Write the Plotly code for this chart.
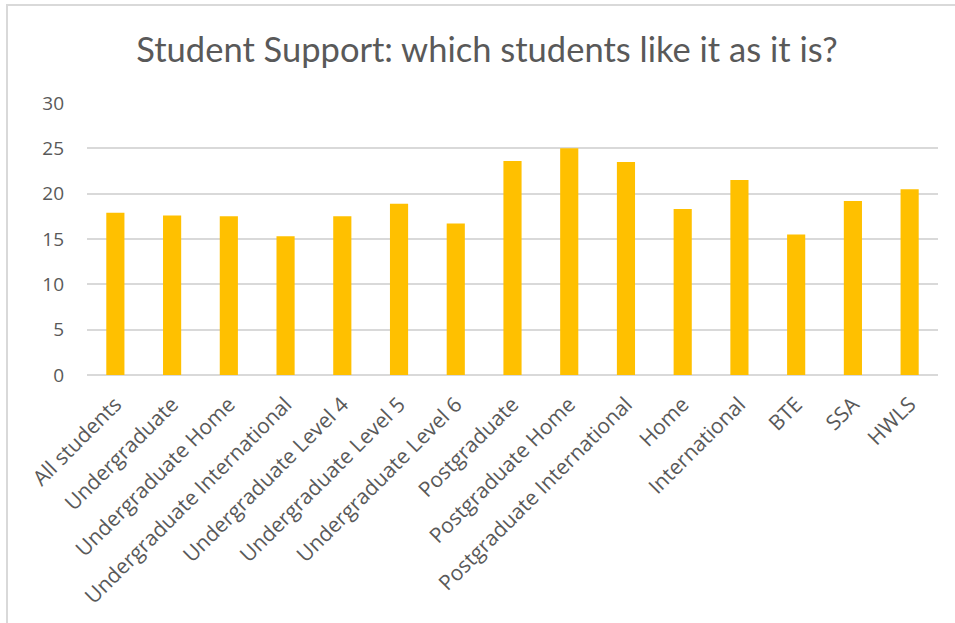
import plotly.graph_objects as go

categories = [
    "All students", "Undergraduate", "Undergraduate Home",
    "Undergraduate International", "Undergraduate Level 4",
    "Undergraduate Level 5", "Undergraduate Level 6", "Postgraduate",
    "Postgraduate Home", "Postgraduate International", "Home",
    "International", "BTE", "SSA", "HWLS",
]
values = [17.9, 17.6, 17.5, 15.3, 17.5, 18.9, 16.7, 23.6,
          25.0, 23.5, 18.3, 21.5, 15.5, 19.2, 20.5]
y_ticks = [0, 5, 10, 15, 20, 25, 30]

TEXT = "#595959"
GRID = "#d9d9d9"

fig = go.Figure(
    go.Bar(
        x=categories,
        y=values,
        marker=dict(color="#FFC000", line=dict(width=0)),
        hoverinfo="x+y",
    )
)

fig.update_layout(
    width=955,
    height=623,
    autosize=False,
    margin=dict(l=87, r=17, t=103, b=248),
    paper_bgcolor="white",
    plot_bgcolor="white",
    bargap=0.68,
    showlegend=False,
    title=dict(
        text="Student Support: which students like it as it is?",
        x=487 / 955,
        xref="container",
        xanchor="center",
        y=1 - 50 / 623,
        yref="container",
        yanchor="middle",
        font=dict(family="Lato, Open Sans, sans-serif", size=34.5, color=TEXT),
    ),
    font=dict(family="Open Sans, sans-serif", color=TEXT),
    xaxis=dict(
        tickangle=-45,
        tickfont=dict(family="Open Sans, sans-serif", size=21, color=TEXT),
        showgrid=False,
        showline=False,
        ticks="",
        zeroline=False,
        automargin=False,
        ticklabelstandoff=12,
    ),
    yaxis=dict(
        range=[0, 30],
        tickvals=y_ticks,
        tickfont=dict(family="Open Sans, sans-serif", size=19, color=TEXT),
        showgrid=True,
        gridcolor=GRID,
        gridwidth=1.5,
        zeroline=True,
        zerolinecolor=GRID,
        zerolinewidth=1.5,
        showline=False,
        ticks="",
        ticklabelstandoff=22,
        automargin=False,
    ),
    shapes=[
        # Thin frame around the chart area
        dict(
            type="rect",
            xref="paper",
            yref="paper",
            x0=(7 - 87) / 851,
            x1=(975 - 87) / 851,
            y0=(375 - 660) / 272,
            y1=(375 - 5) / 272,
            line=dict(color=GRID, width=2),
            fillcolor="rgba(0,0,0,0)",
            layer="below",
        )
    ],
)

fig.write_html("out.html")
